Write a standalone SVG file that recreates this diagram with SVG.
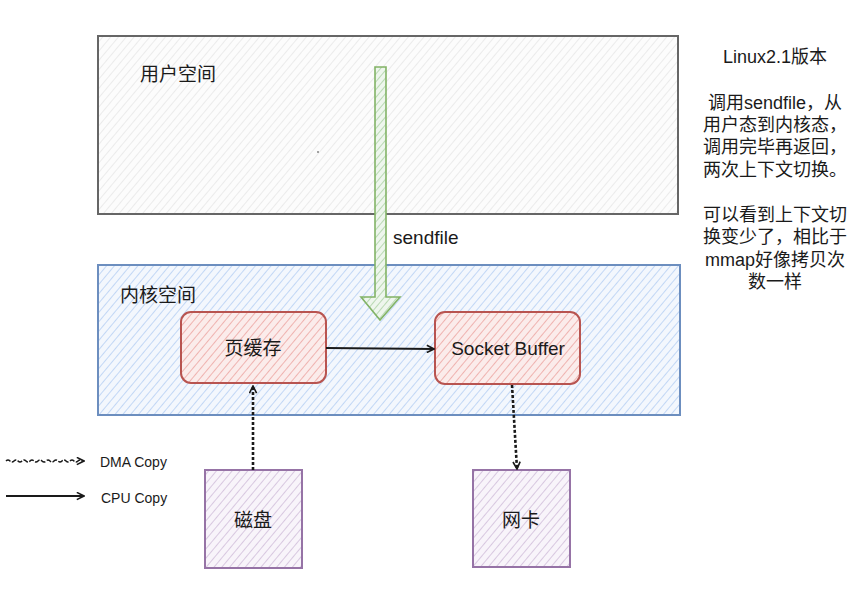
<svg xmlns="http://www.w3.org/2000/svg" width="854" height="598" viewBox="0 0 854 598">
<style>
text{font-family:"Liberation Sans",Arial,"Noto Sans CJK SC",sans-serif;fill:#1a1a1a}
.lbl{font-size:19px}
.side{font-size:18px;text-anchor:middle}
.leg{font-size:14px}
.c{text-anchor:middle}
.conn{fill:none;stroke:#1a1a1a}
</style>
<defs>
<pattern id="hGray" width="6" height="6" patternUnits="userSpaceOnUse" patternTransform="rotate(40)">
<rect width="6" height="6" fill="#fcfcfc"/><line x1="0" y1="0" x2="0" y2="6" stroke="#e0e0e0" stroke-width="1.2"/></pattern>
<pattern id="hBlue" width="6" height="6" patternUnits="userSpaceOnUse" patternTransform="rotate(40)">
<rect width="6" height="6" fill="#f3f7fd"/><line x1="0" y1="0" x2="0" y2="6" stroke="#c2d7f5" stroke-width="2"/></pattern>
<pattern id="hRed" width="6" height="6" patternUnits="userSpaceOnUse" patternTransform="rotate(40)">
<rect width="6" height="6" fill="#fbeceb"/><line x1="0" y1="0" x2="0" y2="6" stroke="#efb3b0" stroke-width="2"/></pattern>
<pattern id="hPurple" width="6" height="6" patternUnits="userSpaceOnUse" patternTransform="rotate(40)">
<rect width="6" height="6" fill="#f8f4fa"/><line x1="0" y1="0" x2="0" y2="6" stroke="#d8c8e0" stroke-width="2"/></pattern>
<pattern id="hGreen" width="5" height="5" patternUnits="userSpaceOnUse" patternTransform="rotate(40)">
<rect width="5" height="5" fill="#eef6ed"/><line x1="0" y1="0" x2="0" y2="5" stroke="#b9d9b3" stroke-width="2"/></pattern>
<marker id="arr" viewBox="0 0 10 10" refX="9" refY="5" markerWidth="9" markerHeight="9" markerUnits="userSpaceOnUse" orient="auto">
<path d="M1,1 L9,5 L1,9" fill="none" stroke="#1a1a1a" stroke-width="1.8"/></marker>
</defs>

<g id="user-space">
<rect x="98" y="36" width="580" height="178" fill="url(#hGray)" stroke="#666" stroke-width="2"/>
<text class="lbl" x="140" y="81">用户空间</text>
<circle cx="318" cy="152" r="0.8" fill="#333"/>
</g>

<g id="kernel-space">
<rect x="98" y="265" width="582" height="150" fill="url(#hBlue)" stroke="#6c8ebf" stroke-width="2"/>
<text class="lbl" x="120" y="302">内核空间</text>
</g>

<g id="page-cache">
<rect x="181" y="312" width="145" height="71" rx="10" fill="url(#hRed)" stroke="#b85450" stroke-width="2"/>
<text class="lbl c" x="253" y="355">页缓存</text>
</g>

<g id="socket-buffer">
<rect x="435" y="312" width="145" height="72" rx="10" fill="url(#hRed)" stroke="#b85450" stroke-width="2"/>
<text class="lbl c" x="508" y="355">Socket Buffer</text>
</g>

<g id="disk">
<rect x="205" y="470" width="97" height="98" fill="url(#hPurple)" stroke="#9673a6" stroke-width="2"/>
<text class="lbl c" x="253" y="527">磁盘</text>
</g>

<g id="nic">
<rect x="473" y="470" width="97" height="97" fill="url(#hPurple)" stroke="#9673a6" stroke-width="2"/>
<text class="lbl c" x="521" y="527">网卡</text>
</g>

<g id="connectors">
<path id="sendfile-arrow" d="M375,67 L386,67 L386,297 L400,297 L380,320 L361,297 L375,297 Z" fill="url(#hGreen)" stroke="#82b366" stroke-width="1.6"/>
<text class="lbl" x="393" y="244">sendfile</text>
<path class="conn" d="M326,348 L434,349" stroke-width="2" marker-end="url(#arr)"/>
<path class="conn" d="M253,470 L253,386" stroke-width="2.6" stroke-dasharray="3 2" marker-end="url(#arr)"/>
<path class="conn" d="M512,385 L517,469" stroke-width="2.6" stroke-dasharray="3 2" marker-end="url(#arr)"/>
</g>

<g id="legend">
<path class="conn" d="M6,461 q2,-2 4,0 t4,0 t4,0 t4,0 t4,0 t4,0 t4,0 t4,0 t4,0 t4,0 t4,0 t4,0 t4,0 t4,0 t4,0 t4,0 t4,0 t4,0 t4,0 L84,461" stroke-width="1.5" stroke-dasharray="5 1.5" marker-end="url(#arr)"/>
<text class="leg" x="100" y="467">DMA Copy</text>
<path class="conn" d="M6,496 L84,496" stroke-width="2" marker-end="url(#arr)"/>
<text class="leg" x="101" y="503">CPU Copy</text>
</g>

<g id="note">
<text class="side" x="775" y="63">Linux2.1版本</text>
<text class="side" x="775" y="109">调用sendfile，从</text>
<text class="side" x="775" y="131">用户态到内核态，</text>
<text class="side" x="775" y="153">调用完毕再返回，</text>
<text class="side" x="775" y="176">两次上下文切换。</text>
<text class="side" x="775" y="221">可以看到上下文切</text>
<text class="side" x="775" y="243">换变少了，相比于</text>
<text class="side" x="775" y="266">mmap好像拷贝次</text>
<text class="side" x="775" y="288">数一样</text>
</g>
</svg>
